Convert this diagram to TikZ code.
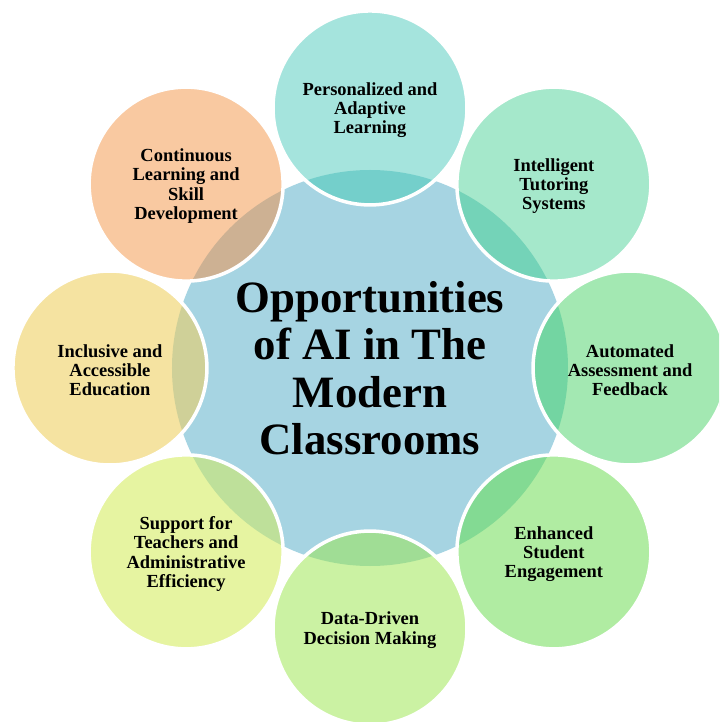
\documentclass[tikz,border=0pt]{standalone}
\usepackage{fontspec}
\setmainfont{Liberation Serif}

\definecolor{hubblue}{HTML}{A6D4E2}
\definecolor{tealfill}{HTML}{A5E4DD}
\definecolor{tealover}{HTML}{74CFCB}
\definecolor{mintfill}{HTML}{A5E8CB}
\definecolor{mintover}{HTML}{74D3B8}
\definecolor{greenfill}{HTML}{A3E8B2}
\definecolor{greenover}{HTML}{73D5A2}
\definecolor{leaffill}{HTML}{B0ECA2}
\definecolor{leafover}{HTML}{83DA93}
\definecolor{limefill}{HTML}{CBF2A3}
\definecolor{limeover}{HTML}{A0DD95}
\definecolor{palefill}{HTML}{E6F4A1}
\definecolor{paleover}{HTML}{BEE09A}
\definecolor{sandfill}{HTML}{F5E3A1}
\definecolor{sandover}{HTML}{CFD098}
\definecolor{peachfill}{HTML}{F9C9A1}
\definecolor{peachover}{HTML}{CDB193}

\tikzset{
  bubble/.style={align=center, text=black, yshift=-1.2pt, font=\bfseries\fontsize{10.5}{11}\selectfont},
  ring/.style={draw=white, line width=2pt},
}

\begin{document}
\begin{tikzpicture}[scale=0.02]
        % frame, in pixel units
        \useasboundingbox (-370,-354) rectangle (349,368);
        \clip (-370,-354) rectangle (349,368);
        \def\hubR{198}
        \def\bubR{97}
        \def\dist{260}

        % Hub circle
        \fill[hubblue] (0,0) circle (\hubR);

        % Bubble 1 - Personalized (top)
        \coordinate (cPers) at (90:\dist);
        \fill[tealfill] (cPers) circle (\bubR);
        \begin{scope}
          \clip (0,0) circle (\hubR);
          \fill[tealover] (cPers) circle (\bubR);
        \end{scope}
        \draw[ring] (cPers) circle (\bubR);
        \node[bubble] (pers) at (cPers) {Personalized and\\Adaptive\\Learning};

        % Bubble 2 - Tutoring (top right)
        \coordinate (cTut) at (45:\dist);
        \fill[mintfill] (cTut) circle (\bubR);
        \begin{scope}
          \clip (0,0) circle (\hubR);
          \fill[mintover] (cTut) circle (\bubR);
        \end{scope}
        \draw[ring] (cTut) circle (\bubR);
        \node[bubble] (tut) at (cTut) {Intelligent\\Tutoring\\Systems};

        % Bubble 3 - Assessment (right)
        \coordinate (cAss) at (0:\dist);
        \fill[greenfill] (cAss) circle (\bubR);
        \begin{scope}
          \clip (0,0) circle (\hubR);
          \fill[greenover] (cAss) circle (\bubR);
        \end{scope}
        \draw[ring] (cAss) circle (\bubR);
        \node[bubble] (ass) at (cAss) {Automated\\Assessment and\\Feedback};

        % Bubble 4 - Engagement (bottom right)
        \coordinate (cEng) at (-45:\dist);
        \fill[leaffill] (cEng) circle (\bubR);
        \begin{scope}
          \clip (0,0) circle (\hubR);
          \fill[leafover] (cEng) circle (\bubR);
        \end{scope}
        \draw[ring] (cEng) circle (\bubR);
        \node[bubble] (eng) at (cEng) {Enhanced\\Student\\Engagement};

        % Bubble 5 - Decision making (bottom)
        \coordinate (cDat) at (-90:\dist);
        \fill[limefill] (cDat) circle (\bubR);
        \begin{scope}
          \clip (0,0) circle (\hubR);
          \fill[limeover] (cDat) circle (\bubR);
        \end{scope}
        \draw[ring] (cDat) circle (\bubR);
        \node[bubble] (dat) at (cDat) {Data-Driven\\Decision Making};

        % Bubble 6 - Teachers (bottom left)
        \coordinate (cSup) at (-135:\dist);
        \fill[palefill] (cSup) circle (\bubR);
        \begin{scope}
          \clip (0,0) circle (\hubR);
          \fill[paleover] (cSup) circle (\bubR);
        \end{scope}
        \draw[ring] (cSup) circle (\bubR);
        \node[bubble] (sup) at (cSup) {Support for\\Teachers and\\Administrative\\Efficiency};

        % Bubble 7 - Inclusive (left)
        \coordinate (cInc) at (180:\dist);
        \fill[sandfill] (cInc) circle (\bubR);
        \begin{scope}
          \clip (0,0) circle (\hubR);
          \fill[sandover] (cInc) circle (\bubR);
        \end{scope}
        \draw[ring] (cInc) circle (\bubR);
        \node[bubble] (inc) at (cInc) {Inclusive and\\Accessible\\Education};

        % Bubble 8 - Skills (top left)
        \coordinate (cCon) at (135:\dist);
        \fill[peachfill] (cCon) circle (\bubR);
        \begin{scope}
          \clip (0,0) circle (\hubR);
          \fill[peachover] (cCon) circle (\bubR);
        \end{scope}
        \draw[ring] (cCon) circle (\bubR);
        \node[bubble] (con) at (cCon) {Continuous\\Learning and\\Skill\\Development};

        % Center - title
        \node[align=center, font=\bfseries\fontsize{25.5}{27}\selectfont, text=black] (title) at (0,0)
          {Opportunities\\of AI in The\\Modern\\Classrooms};
\end{tikzpicture}
\end{document}
